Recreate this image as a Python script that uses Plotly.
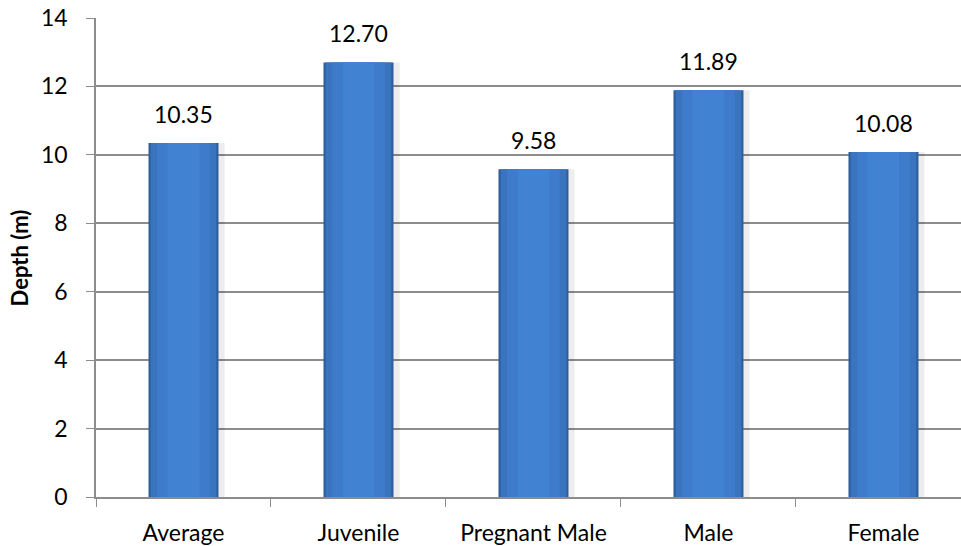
import plotly.graph_objects as go

# Mean depth by group
categories = ["Average", "Juvenile", "Pregnant Male", "Male", "Female"]
depth_m = [10.35, 12.70, 9.58, 11.89, 10.08]
value_labels = ["10.35", "12.70", "9.58", "11.89", "10.08"]
y_ticks = [0, 2, 4, 6, 8, 10, 12, 14]

FONT = "Lato"
TEXT = "#000000"
GRID = "#8C8C8C"
SIZE = 23

fig = go.Figure()

# Layered bars give a shaded, cylinder-like look
layers = [
    dict(width=0.43, offset=-0.195, color="rgba(0,0,0,0.07)"),   # soft shadow
    dict(width=0.40, offset=None, color="#2F5E9E"),               # dark rim
    dict(width=0.375, offset=None, color="#3A74BF"),              # body
    dict(width=0.30, offset=None, color="#3E7CCB"),               # lighter core
    dict(width=0.18, offset=None, color="#4183D2"),               # highlight
]
for lay in layers:
    kw = dict(x=categories, y=depth_m, width=lay["width"],
              marker=dict(color=lay["color"], line=dict(width=0)),
              hoverinfo="skip", showlegend=False)
    if lay["offset"] is not None:
        kw["offset"] = lay["offset"]
    fig.add_trace(go.Bar(**kw))

# Value labels above each bar
for cat, val, lab in zip(categories, depth_m, value_labels):
    fig.add_annotation(x=cat, y=val, text=lab, showarrow=False,
                       yanchor="bottom", yshift=13,
                       font=dict(family=FONT, size=SIZE, color=TEXT))

# Y axis title
fig.add_annotation(xref="paper", yref="paper", x=-0.088, y=0.5,
                   text="<b>Depth (m)</b>", textangle=-90, showarrow=False,
                   xanchor="center", yanchor="middle",
                   font=dict(family=FONT, size=22, color=TEXT))

fig.update_layout(
    width=961, height=546,
    margin=dict(l=96, r=0, t=18, b=49),
    paper_bgcolor="white", plot_bgcolor="white",
    barmode="overlay",
    font=dict(family=FONT, size=SIZE, color=TEXT),
)
fig.update_xaxes(
    type="category", range=[-0.5, 4.443],
    showline=True, linecolor=GRID, linewidth=1.5,
    ticks="outside", tickson="boundaries", ticklen=8, tickcolor=GRID,
    showgrid=False, ticklabelstandoff=15,
    tickfont=dict(family=FONT, size=SIZE, color=TEXT),
)
fig.update_yaxes(
    range=[0, 14], tickvals=y_ticks,
    showline=True, linecolor=GRID, linewidth=1.5,
    ticks="outside", ticklen=8, tickcolor=GRID,
    showgrid=True, gridcolor=GRID, gridwidth=1.5,
    zeroline=False, ticklabelstandoff=14,
    tickfont=dict(family=FONT, size=SIZE, color=TEXT),
)

fig.write_html("out.html")
